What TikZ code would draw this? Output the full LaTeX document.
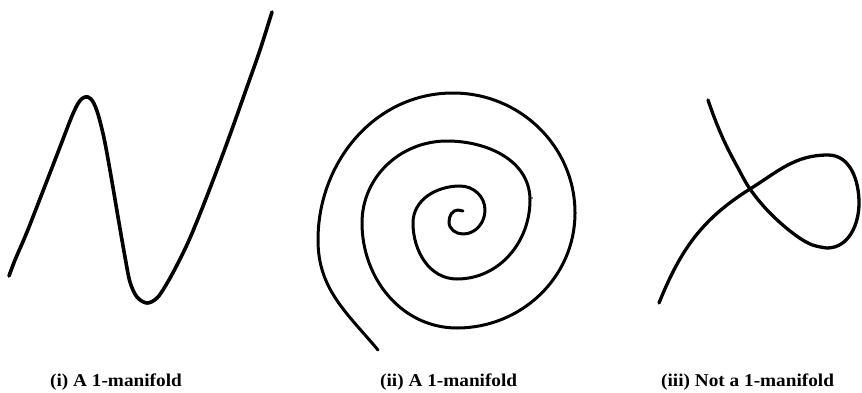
\documentclass[tikz,border=0pt]{standalone}
\usepackage{fontspec}
\setmainfont{Liberation Serif}
\begin{document}
\begin{tikzpicture}[x=1pt,y=1pt,
  curve/.style={draw=black,line cap=round,line join=round},
  caption/.style={anchor=base west,inner sep=0pt,xscale=1.07,
    font=\fontsize{18}{20}\selectfont\bfseries}]
\useasboundingbox (0,0) rectangle (862,392);
% (i)
\draw[curve,line width=3.6pt] plot[smooth,tension=0.55] coordinates {
 (9,116) (15,132) (27,160) (43,201) (60,245) (72,276) (79,290) (85,295)
 (91,293) (97,281) (104,254) (111,216) (118,175) (125,135) (130,110)
 (137,95) (147,89) (157,94) (166,107) (177,127) (190,154) (207,196)
 (227,249) (247,305) (260,342) (272,380)};
% (ii) spiral
\draw[curve,line width=3pt]
 (378,42) to[out=130,in=-90] (318,152)
 to[out=90,in=180] (453,299) to[out=0,in=90] (575,179)
 to[out=-90,in=0] (457,64) to[out=180,in=-90] (362,169)
 to[out=90,in=180] (447,251) to[out=0,in=90] (530,192)
 to[out=-90,in=0] (457,113) to[out=180,in=-90] (413,169)
 to[out=90,in=180] (460,206) to[out=0,in=90] (485,182)
 to[out=-90,in=0] (463,158) to[out=180,in=-90] (449,170)
 to[out=90,in=180] (458,182) to[out=0,in=170] (463,181);
\fill (532,194) circle (0.8pt);
% (iii)
\draw[curve,line width=3.3pt]
 plot[smooth,tension=0.6] coordinates {
 (708,292) (716,270) (726,247) (738,224) (750,203) (768,181) (790,161)
 (810,148) (827,144)}
 to[out=0,in=-90] (859,189)
 to[out=90,in=0] (828,237) to[out=180,in=32] (750,203)
 to[out=212,in=68] (659,89);
\node[caption] (c1) at (50,6) {(i) A 1-manifold};
\node[caption] (c2) at (380,6) {(ii) A 1-manifold};
\node[caption] (c3) at (661,6) {(iii) Not a 1-manifold};
\end{tikzpicture}
\end{document}
